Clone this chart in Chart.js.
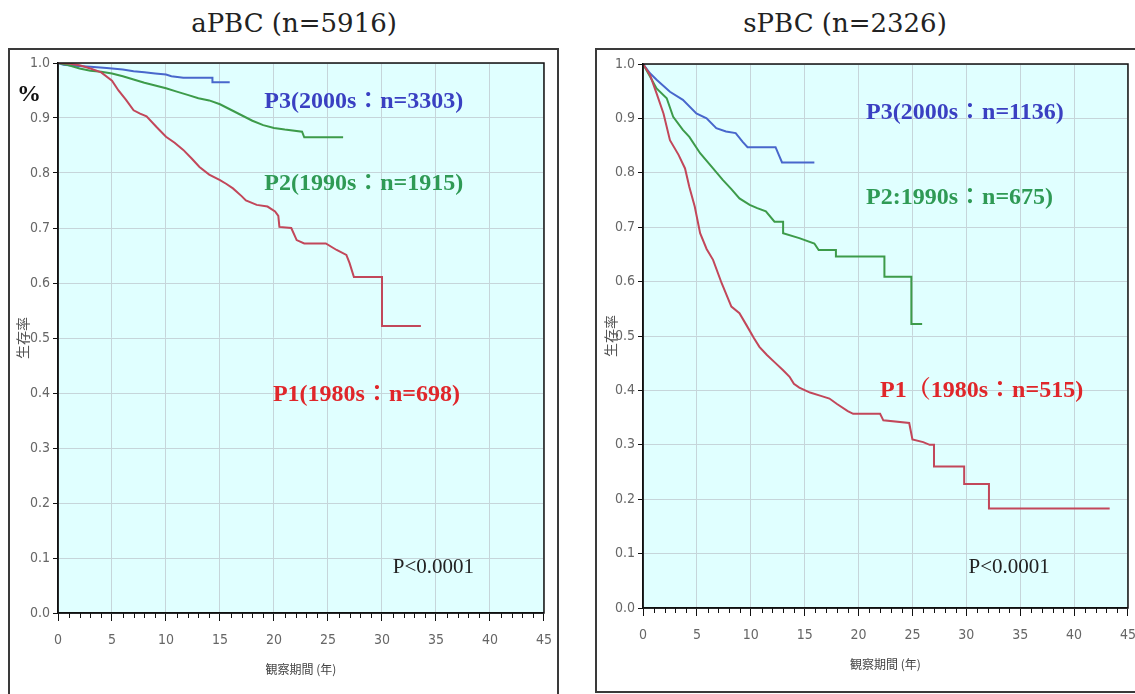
<!DOCTYPE html>
<html>
<head>
<meta charset="utf-8">
<script src="https://cdn.jsdelivr.net/npm/chart.js@4"></script>
<style>
  body { margin: 0; background: #fff; width: 1135px; height: 694px; overflow: hidden; position: relative; }
  .frame { position: absolute; border: 2px solid #3a3a3a; box-sizing: border-box; }
  .title { position: absolute; top: 8px; width: 400px; text-align: center; font: 26px "DejaVu Serif", serif; color: #222; line-height: 30px; }
  .pct { position: absolute; left: 17px; top: 80px; font: bold 24px "Liberation Serif", serif; color: #111; }
  canvas { position: absolute; }
</style>
</head>
<body>
<div class="title" style="left:94px">aPBC (n=5916)</div>
<div class="title" style="left:645px">sPBC (n=2326)</div>
<div class="frame" style="left:8px;top:48px;width:551px;height:670px"></div>
<div class="frame" style="left:595px;top:48px;width:545px;height:645px"></div>
<canvas id="aChart" width="553" height="644" style="left:10px;top:50px"></canvas>
<canvas id="sChart" width="549" height="640" style="left:598px;top:50px"></canvas>
<div class="pct">%</div>
<script>
// aPBC survival by era (years, survival rate); repeated times mark vertical drops
const aP3Time = [0, 0.5, 1.5, 3, 4.5, 6, 7, 8, 9, 10, 10.5, 11.6, 14.3, 14.3, 15.9];
const aP3Surv = [1, 0.997, 0.995, 0.993, 0.991, 0.988, 0.985, 0.983, 0.981, 0.979, 0.976, 0.973, 0.973, 0.965, 0.965];
const aP2Time = [0, 1, 2, 3, 4, 5, 6, 7, 8, 9, 10, 11, 12, 13, 14, 15, 16, 17, 18, 19, 20, 21, 22.6, 22.8, 26.4];
const aP2Surv = [1, 0.996, 0.99, 0.986, 0.984, 0.981, 0.976, 0.97, 0.964, 0.959, 0.954, 0.948, 0.942, 0.936, 0.932, 0.925, 0.915, 0.905, 0.895, 0.887, 0.882, 0.879, 0.875, 0.865, 0.865];
const aP1Time = [0, 1, 2, 3, 4, 5, 5.6, 6.3, 7, 7.6, 8.2, 9.1, 10, 10.8, 11.6, 12.4, 13.1, 14, 15, 15.6, 16.2, 17, 17.4, 18.4, 19.4, 20.1, 20.4, 20.5, 21.6, 22.1, 22.8, 24.8, 25.8, 26.7, 27, 27.4, 30, 30, 33.6];
const aP1Surv = [1, 0.999, 0.996, 0.99, 0.983, 0.968, 0.95, 0.933, 0.914, 0.908, 0.903, 0.884, 0.866, 0.855, 0.842, 0.826, 0.811, 0.797, 0.787, 0.78, 0.772, 0.758, 0.75, 0.742, 0.739, 0.73, 0.722, 0.702, 0.7, 0.678, 0.672, 0.672, 0.66, 0.651, 0.636, 0.611, 0.611, 0.522, 0.522];

// sPBC survival by era
const sP3Time = [0, 0.65, 1.26, 2.5, 3.7, 4.95, 5.9, 6.8, 7.7, 8.6, 9.25, 9.7, 12.3, 12.6, 12.9, 15.9];
const sP3Surv = [1, 0.983, 0.971, 0.949, 0.934, 0.909, 0.9, 0.882, 0.876, 0.873, 0.857, 0.847, 0.847, 0.833, 0.819, 0.819];
const sP2Time = [0, 0.65, 1.26, 2.2, 2.8, 3.7, 4.3, 5.3, 6.5, 7.4, 8.2, 8.95, 9.9, 10.6, 11.4, 12.2, 13, 13, 14.5, 15.9, 16.3, 17.9, 17.9, 22.4, 22.4, 24.9, 24.9, 25.9];
const sP2Surv = [1, 0.977, 0.955, 0.937, 0.903, 0.879, 0.866, 0.836, 0.808, 0.787, 0.77, 0.753, 0.741, 0.735, 0.729, 0.71, 0.71, 0.689, 0.68, 0.67, 0.658, 0.658, 0.646, 0.646, 0.609, 0.609, 0.522, 0.522];
const sP1Time = [0, 0.65, 1.26, 1.9, 2.5, 3.3, 3.9, 4.3, 4.8, 5.3, 5.9, 6.5, 7.3, 8.2, 8.95, 9.6, 10.3, 10.8, 11.5, 12.2, 13, 13.6, 14, 14.5, 15.5, 16.5, 17.3, 18, 19, 19.5, 22, 22.3, 24.7, 25, 26, 26.6, 27, 27, 29.8, 29.8, 32.1, 32.1, 43.3];
const sP1Surv = [1, 0.98, 0.946, 0.909, 0.86, 0.833, 0.808, 0.774, 0.738, 0.689, 0.66, 0.64, 0.597, 0.554, 0.542, 0.52, 0.496, 0.48, 0.465, 0.452, 0.437, 0.425, 0.412, 0.405, 0.396, 0.39, 0.385, 0.375, 0.362, 0.357, 0.357, 0.345, 0.34, 0.31, 0.305, 0.3, 0.3, 0.26, 0.26, 0.228, 0.228, 0.183, 0.183];

const xTicks = [0, 5, 10, 15, 20, 25, 30, 35, 40, 45];

const RED = '#c2475a', GREEN = '#3d9b4a', BLUE = '#4867cc';
const GRID = '#c6d5da';
const tickFont = { family: "'Liberation Sans Narrow', 'DejaVu Sans Condensed', 'Liberation Sans', sans-serif", size: 14 };
const labelFont = 'bold 24px "Liberation Serif", "Noto Serif CJK JP", "Noto Sans CJK JP", serif';
const pFont = '21px "Liberation Serif", serif';

const pts = (t, s) => t.map((x, i) => ({ x: x, y: s[i] }));

function kmLine(t, s, color) {
  return {
    data: pts(t, s),
    borderColor: color,
    borderWidth: 2,
    pointRadius: 0,
    tension: 0,
    fill: false
  };
}

function makeChart(id, datasets, labels, box) {
  // plot background, outline, minor year ticks and group labels
  const panel = {
    id: 'panel',
    beforeDraw(chart) {
      const { ctx, chartArea: a } = chart;
      ctx.save();
      ctx.fillStyle = '#e0ffff';
      ctx.fillRect(a.left, a.top, a.right - a.left, a.bottom - a.top);
      ctx.restore();
    },
    afterDraw(chart) {
      const { ctx, chartArea: a, scales } = chart;
      ctx.save();
      ctx.strokeStyle = '#111';
      ctx.lineWidth = 1.5;
      ctx.strokeRect(a.left, a.top, a.right - a.left, a.bottom - a.top);
      ctx.lineWidth = 1;
      for (let t = 1; t < 45; t++) {
        if (t % 5 === 0) continue;
        const px = Math.round(scales.x.getPixelForValue(t)) + 0.5;
        ctx.beginPath();
        ctx.moveTo(px, a.bottom);
        ctx.lineTo(px, a.bottom + 5);
        ctx.stroke();
      }
      ctx.textBaseline = 'middle';
      ctx.textAlign = 'left';
      labels.forEach(l => {
        ctx.font = l.font || labelFont;
        ctx.fillStyle = l.color;
        ctx.fillText(l.text, scales.x.getPixelForValue(l.t), scales.y.getPixelForValue(l.s));
      });
      ctx.restore();
    }
  };

  return new Chart(document.getElementById(id), {
    type: 'line',
    data: { datasets: datasets },
    options: {
      responsive: false,
      animation: false,
      layout: { padding: { top: box.top, right: 0, left: 0, bottom: 0 } },
      plugins: { legend: { display: false }, tooltip: { enabled: false } },
      scales: {
        x: {
          type: 'linear', min: 0, max: 45,
          afterFit: s => { s.height = box.xh; },
          afterBuildTicks: s => { s.ticks = xTicks.map(v => ({ value: v })); },
          ticks: { color: '#666', font: tickFont, padding: 11, maxRotation: 0, autoSkip: false },
          grid: { color: GRID, tickColor: '#111', tickLength: 8 },
          border: { color: '#111', width: 1.5 },
          title: {
            display: true, text: '観察期間 (年)', color: '#444',
            font: { family: "'Noto Sans CJK JP'", size: 12 },
            padding: { bottom: box.titlePad }
          }
        },
        y: {
          min: 0, max: 1,
          afterFit: s => { s.width = box.yw; },
          ticks: { stepSize: 0.1, color: '#666', font: tickFont, padding: 3, callback: v => v.toFixed(1) },
          grid: { color: GRID, tickColor: '#111', tickLength: 5 },
          border: { color: '#111', width: 1.5 },
          title: {
            display: true, text: '生存率', color: '#555',
            font: { family: "'Noto Sans CJK JP'", size: 14 },
            padding: { top: 4 }
          }
        }
      }
    },
    plugins: [panel]
  });
}

const aChart = makeChart('aChart', [
  kmLine(aP1Time, aP1Surv, RED),
  kmLine(aP2Time, aP2Surv, GREEN),
  kmLine(aP3Time, aP3Surv, BLUE)
], [
  { text: 'P3(2000s：n=3303)', t: 19.1, s: 0.929, color: '#3a40c2' },
  { text: 'P2(1990s：n=1915)', t: 19.1, s: 0.78, color: '#2f9a55' },
  { text: 'P1(1980s：n=698)', t: 19.9, s: 0.396, color: '#e0262a' },
  { text: 'P<0.0001', t: 31.0, s: 0.082, color: '#222', font: pFont }
], { top: 13, xh: 81, yw: 48, titlePad: 17 });

const sChart = makeChart('sChart', [
  kmLine(sP1Time, sP1Surv, RED),
  kmLine(sP2Time, sP2Surv, GREEN),
  kmLine(sP3Time, sP3Surv, BLUE)
], [
  { text: 'P3(2000s：n=1136)', t: 20.7, s: 0.91, color: '#3a40c2' },
  { text: 'P2:1990s：n=675)', t: 20.7, s: 0.754, color: '#2f9a55' },
  { text: 'P1（1980s：n=515)', t: 22.0, s: 0.40, color: '#e0262a' },
  { text: 'P<0.0001', t: 30.2, s: 0.074, color: '#222', font: pFont }
], { top: 14, xh: 82, yw: 45, titlePad: 18 });
</script>
</body>
</html>
